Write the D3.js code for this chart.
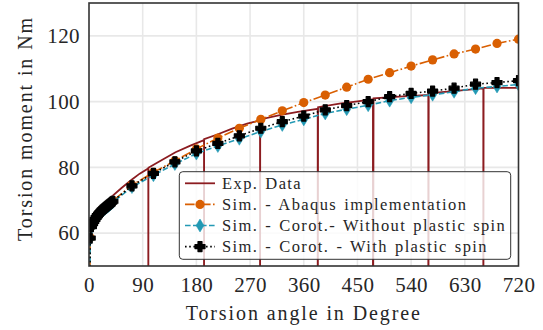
<!DOCTYPE html>
<html>
<head>
<meta charset="utf-8">
<script src="https://cdn.jsdelivr.net/npm/d3@7"></script>
<style>
  body { margin: 0; background: #fff; }
  svg { display: block; }
</style>
</head>
<body>
<svg id="chart" width="543" height="330"></svg>
<script>
// Tick labels
const xTicks = [0, 90, 180, 270, 360, 450, 540, 630, 720];
const yTicks = [60, 80, 100, 120];

// Simulation output: torsion angle (deg)
const simAngle = [0, 2, 4, 6, 8, 10, 12, 14, 16, 18, 20, 22, 24, 26, 28, 30, 32, 34, 36, 38, 40,
  72, 108, 144, 180, 216, 252, 288, 324, 360, 396, 432, 468, 504, 540, 576, 612, 648, 684, 720];

// Torsion moment (Nm) per simulation
const abaqusMoment = [0, 58.6, 62.1, 63.0, 63.7, 64.3, 64.9, 65.4, 65.9, 66.3, 66.7, 67.1, 67.4, 67.7, 68.0, 68.3, 68.6, 68.9, 69.2, 69.5, 69.8,
  74.6, 78.5, 82.0, 85.6, 88.9, 91.9, 94.6, 97.2, 99.7, 102.0, 104.4, 106.8, 108.8, 110.8, 112.7, 114.5, 116.0, 117.7, 119.0];
const corotNoSpinMoment = [0, 58.3, 61.7, 62.6, 63.3, 63.9, 64.5, 65.0, 65.5, 65.9, 66.3, 66.7, 67.0, 67.3, 67.6, 67.9, 68.2, 68.5, 68.8, 69.1, 69.4,
  74.0, 77.6, 81.0, 84.2, 86.5, 88.7, 90.9, 92.9, 94.6, 96.4, 97.7, 98.9, 100.3, 101.3, 102.1, 103.0, 104.1, 104.6, 105.2];
const corotSpinMoment = [0, 58.5, 62.0, 62.9, 63.6, 64.2, 64.8, 65.3, 65.8, 66.2, 66.6, 67.0, 67.3, 67.6, 67.9, 68.2, 68.5, 68.8, 69.1, 69.4, 69.7,
  74.4, 78.2, 81.7, 85.0, 87.3, 89.6, 91.9, 93.9, 95.6, 97.5, 98.8, 100.0, 101.5, 102.5, 103.2, 104.1, 105.3, 105.8, 106.4];

// Experiment: loading path with periodic unloading/reloading
const expAngle = [3, 10, 20, 30, 38, 55, 72, 85, 99.4, 99.4, 99.6, 120, 145, 170, 192.8, 192.8, 193, 215, 240, 265,
  286.7, 286.7, 287, 320, 350, 383.4, 383.4, 384, 420, 450, 476, 476, 477, 520, 568.8, 568.8, 569.5, 610, 661, 661, 661.5, 720];
const expMoment = [61.5, 65.5, 68.0, 69.8, 71.1, 73.8, 76.3, 78.1, 79.7, 0, 79.9, 82.0, 84.6, 86.6, 88.3, 0, 88.6, 90.0, 91.8, 93.3,
  94.3, 0, 94.6, 95.9, 96.9, 97.8, 0, 98.3, 99.4, 100.1, 100.7, 0, 101.0, 101.5, 102.0, 0, 102.5, 103.2, 104.0, 0, 104.2, 104.2];

const legendLabels = ["Exp. Data", "Sim. - Abaqus implementation",
  "Sim. - Corot.- Without plastic spin", "Sim. - Corot. - With plastic spin"];

const colors = { exp: "#8c1c20", abaqus: "#d95f02", noSpin: "#2399b4", spin: "#000000" };
const serif = "'Liberation Serif'";
const textColor = "#262626";

const svg = d3.select("#chart");
const plot = { left: 89, right: 518.5, top: 3, bottom: 266 };

const x = d3.scaleLinear().domain([0, 720]).range([plot.left, plot.right]);
const y = d3.scaleLinear().domain([50, 130]).range([plot.bottom, plot.top]);

svg.append("defs").append("clipPath").attr("id", "plotClip")
  .append("rect")
  .attr("x", plot.left).attr("y", plot.top)
  .attr("width", plot.right - plot.left).attr("height", plot.bottom - plot.top);

// Grid
const grid = svg.append("g").attr("stroke", "#e8e8e8").attr("stroke-width", 1.6);
grid.selectAll(".gx").data(xTicks.slice(1, -1)).join("line")
  .attr("x1", d => x(d)).attr("x2", d => x(d))
  .attr("y1", plot.top).attr("y2", plot.bottom);
grid.selectAll(".gy").data(yTicks).join("line")
  .attr("x1", plot.left).attr("x2", plot.right)
  .attr("y1", d => y(d)).attr("y2", d => y(d));

// Axes (labels only)
const xAxis = svg.append("g")
  .attr("transform", `translate(0,${plot.bottom})`)
  .call(d3.axisBottom(x).tickValues(xTicks).tickFormat(d3.format("d")).tickSize(0).tickPadding(11));
const yAxis = svg.append("g")
  .attr("transform", `translate(${plot.left},0)`)
  .call(d3.axisLeft(y).tickValues(yTicks).tickFormat(d3.format("d")).tickSize(0).tickPadding(9));
[xAxis, yAxis].forEach(g => {
  g.select(".domain").remove();
  g.attr("font-family", serif).attr("font-size", 21);
  g.selectAll("text").attr("font-family", serif).attr("font-size", 21).attr("fill", textColor)
    .style("letter-spacing", "0.4px");
});

// Series
const layer = svg.append("g").attr("clip-path", "url(#plotClip)");

const expPts = expAngle.map((a, i) => [a, expMoment[i]]);
layer.append("path")
  .attr("d", d3.line().x(d => x(d[0])).y(d => y(d[1]))(expPts))
  .attr("fill", "none").attr("stroke", colors.exp).attr("stroke-width", 1.8);

const circlePath = d3.symbol(d3.symbolCircle, Math.PI * 4.6 * 4.6)();
const diamondPath = "M0,-6.5L4,0L0,6.5L-4,0Z";
const plusPath = (() => {
  const w = 5, t = 2;
  return `M${-t},${-w}H${t}V${-t}H${w}V${t}H${t}V${w}H${-t}V${t}H${-w}V${-t}H${-t}Z`;
})();

const series = [
  { values: abaqusMoment, color: colors.abaqus, dash: "9.6,2.4,1.6,2.4", marker: circlePath, mstroke: 0 },
  { values: corotNoSpinMoment, color: colors.noSpin, dash: "5.6,2.4", marker: diamondPath, mstroke: 0.5 },
  { values: corotSpinMoment, color: colors.spin, dash: "1.6,2.6", marker: plusPath, mstroke: 1.2 }
];

series.forEach(s => {
  const pts = simAngle.map((a, i) => [a, s.values[i]]);
  layer.append("path")
    .attr("d", d3.line().x(d => x(d[0])).y(d => y(d[1]))(pts))
    .attr("fill", "none").attr("stroke", s.color).attr("stroke-width", 1.6)
    .attr("stroke-dasharray", s.dash);
  layer.selectAll(null).data(pts.slice(1)).join("path")
    .attr("transform", d => `translate(${x(d[0])},${y(d[1])})`)
    .attr("d", s.marker)
    .attr("fill", s.color)
    .attr("stroke", s.color).attr("stroke-width", s.mstroke).attr("stroke-linejoin", "round");
});

// Frame
svg.append("rect")
  .attr("x", plot.left).attr("y", plot.top)
  .attr("width", plot.right - plot.left).attr("height", plot.bottom - plot.top)
  .attr("fill", "none").attr("stroke", "#333").attr("stroke-width", 1.6);

// Axis titles
svg.append("text")
  .attr("x", (plot.left + plot.right) / 2).attr("y", 320)
  .attr("text-anchor", "middle").attr("font-size", 20).attr("font-family", serif)
  .attr("fill", textColor).style("letter-spacing", "1.9px")
  .text("Torsion angle in Degree");
svg.append("text")
  .attr("transform", "translate(31.5,128.5) rotate(-90)")
  .attr("text-anchor", "middle").attr("font-size", 20).attr("font-family", serif)
  .attr("fill", textColor).style("letter-spacing", "1.9px")
  .text("Torsion moment in Nm");

// Legend
const legend = svg.append("g");
legend.append("rect")
  .attr("x", 179.3).attr("y", 171.7).attr("width", 331.4).attr("height", 87.6)
  .attr("rx", 3.5)
  .attr("fill", "#fff").attr("fill-opacity", 0.8)
  .attr("stroke", "#333").attr("stroke-width", 1);

const legendItems = [
  { color: colors.exp, dash: null, marker: null, mstroke: 0 },
  ...series
];
legendItems.forEach((it, i) => {
  const cy = 183.3 + i * 21.1;
  const row = legend.append("g");
  row.append("line")
    .attr("x1", 185).attr("x2", 215).attr("y1", cy).attr("y2", cy)
    .attr("stroke", it.color).attr("stroke-width", it.marker ? 1.6 : 1.8)
    .attr("stroke-dasharray", it.dash);
  if (it.marker) {
    row.append("path")
      .attr("transform", `translate(200,${cy})`)
      .attr("d", it.marker)
      .attr("fill", it.color)
      .attr("stroke", it.color).attr("stroke-width", it.mstroke).attr("stroke-linejoin", "round");
  }
  row.append("text")
    .attr("x", 222).attr("y", cy + 5.2)
    .attr("font-size", 16.5).attr("font-family", serif).attr("fill", textColor)
    .style("letter-spacing", "1.4px").style("word-spacing", "1.5px")
    .text(legendLabels[i]);
});
</script>
</body>
</html>
